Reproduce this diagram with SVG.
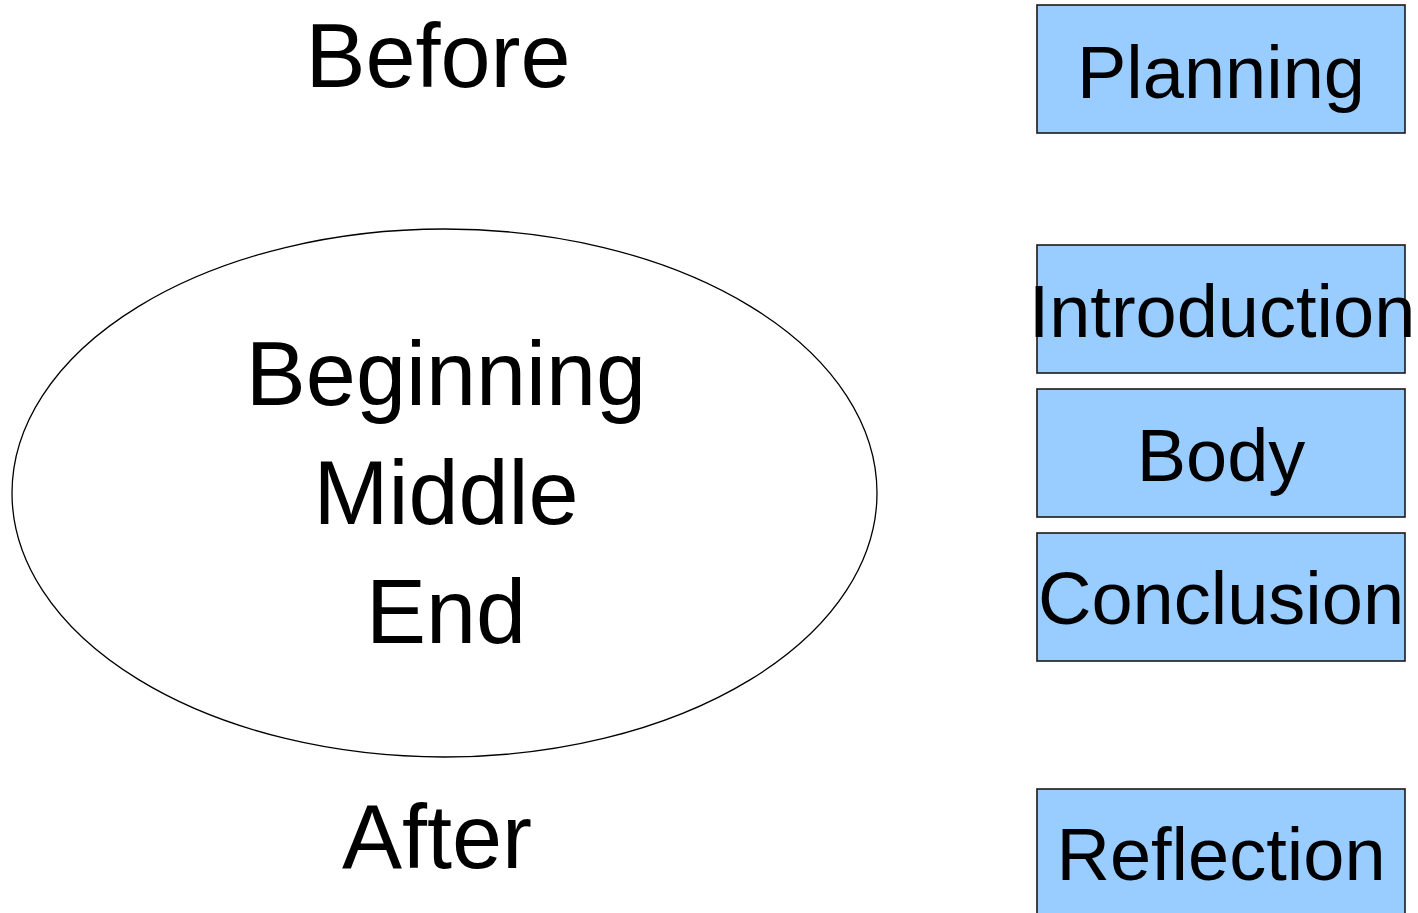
<svg xmlns="http://www.w3.org/2000/svg" width="1418" height="913" viewBox="0 0 1418 913">
<style>
.big{font-family:"Liberation Sans",Arial,sans-serif;font-size:90px;fill:#000;text-anchor:middle}
.lbl{font-family:"Liberation Sans",Arial,sans-serif;font-size:74px;fill:#000;text-anchor:middle}
.box{fill:#99CCFF;stroke:#1a1a1a;stroke-width:1.6}
</style>
<rect width="1418" height="913" fill="#fff"/>
<g id="before"><text class="big" x="438" y="87">Before</text></g>
<g id="story">
<ellipse cx="444.5" cy="493" rx="432.5" ry="264" fill="#fff" stroke="#000" stroke-width="1.3"/>
<text class="big" x="446" y="405">Beginning</text>
<text class="big" x="446" y="524">Middle</text>
<text class="big" x="446" y="643">End</text>
</g>
<g id="after"><text class="big" x="437" y="868">After</text></g>
<g id="planning"><rect class="box" x="1037" y="5" width="368" height="128"/><text class="lbl" x="1221" y="97.5">Planning</text></g>
<g id="introduction"><rect class="box" x="1037" y="245" width="368" height="128"/><text class="lbl" x="1222" y="336.5">Introduction</text></g>
<g id="body"><rect class="box" x="1037" y="389" width="368" height="128"/><text class="lbl" x="1221" y="480.5">Body</text></g>
<g id="conclusion"><rect class="box" x="1037" y="533" width="368" height="128"/><text class="lbl" x="1221" y="623.5">Conclusion</text></g>
<g id="reflection"><rect class="box" x="1037" y="789" width="368" height="128"/><text class="lbl" x="1221" y="880">Reflection</text></g>
<g id="connectors"></g>
</svg>
